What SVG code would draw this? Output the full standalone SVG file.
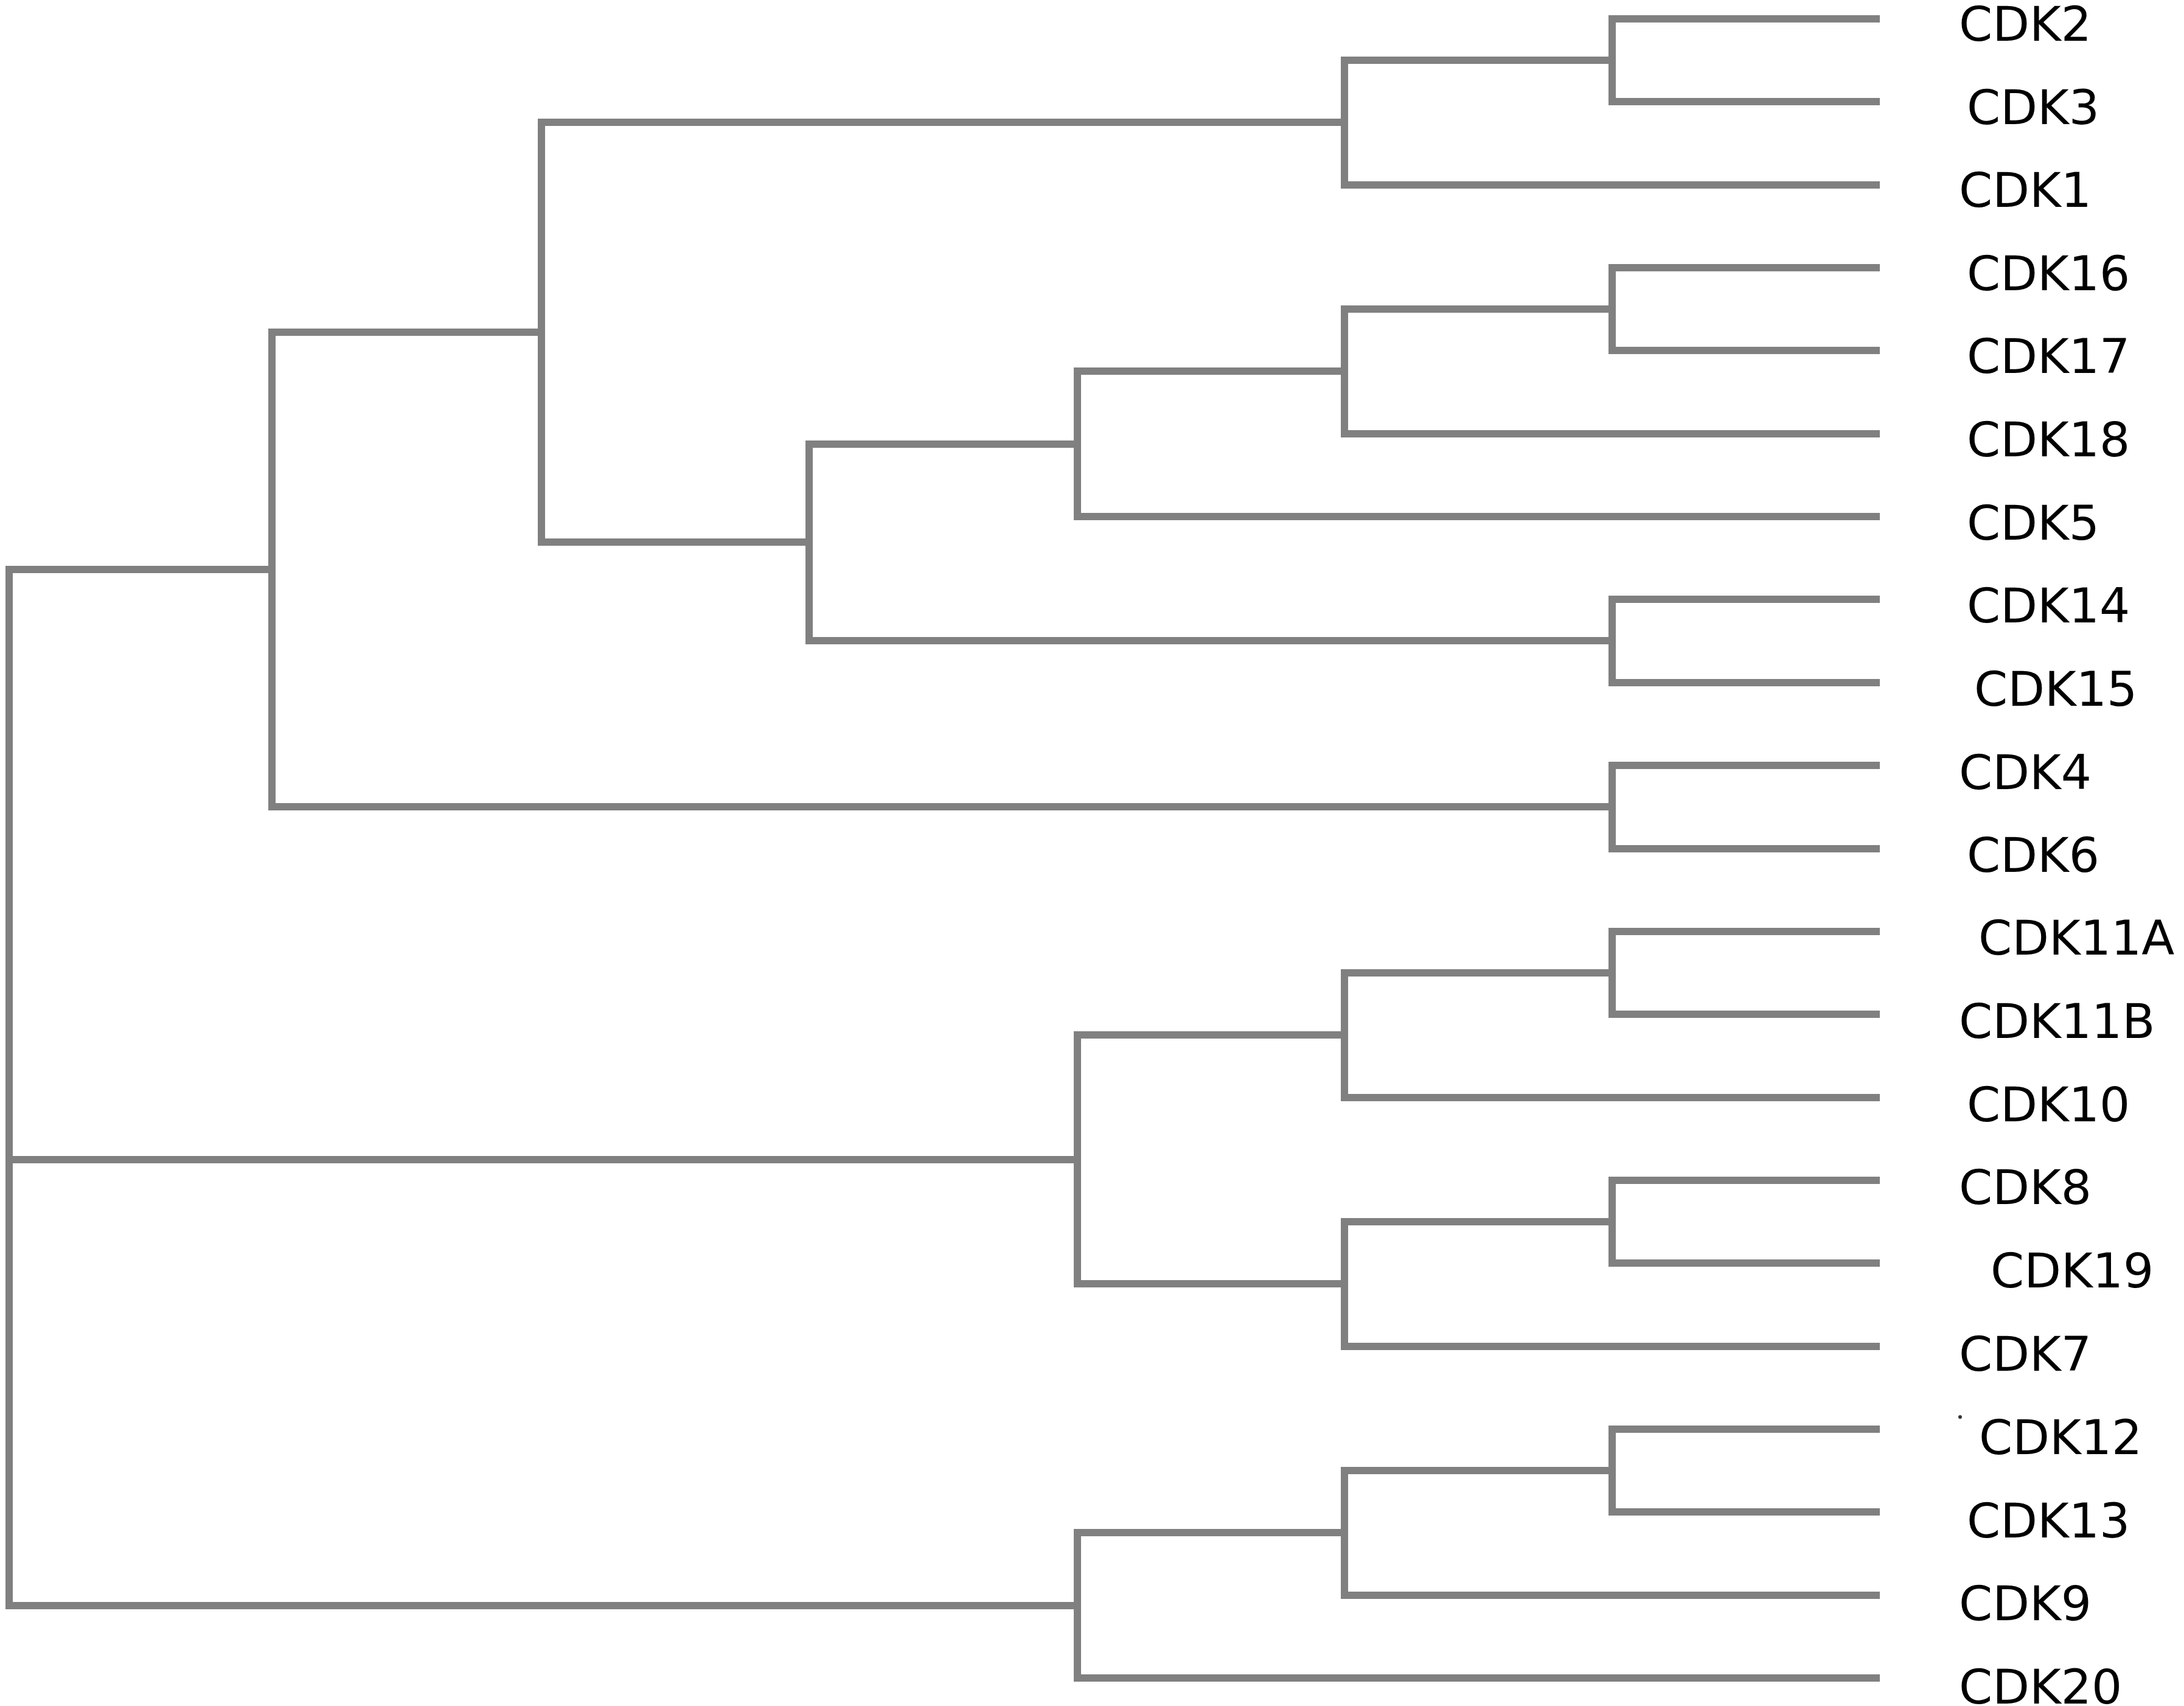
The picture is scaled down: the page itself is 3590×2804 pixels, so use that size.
<svg xmlns="http://www.w3.org/2000/svg" width="3590" height="2804" viewBox="0 0 3590 2804">
<style>
.e{fill:none;stroke:#808080;stroke-width:12;stroke-linejoin:miter;stroke-linecap:butt}
.t{font-family:"DejaVu Sans","Verdana",sans-serif;font-size:79px;fill:#000}
</style>
<rect width="3590" height="2804" fill="#fff"/>
<g id="connectors">
<path class="e" d="M3090 31 H2650 V167 H3090"/>
<path class="e" d="M2650 99 H2210 V304 H3090"/>
<path class="e" d="M3090 440 H2650 V576 H3090"/>
<path class="e" d="M2650 508 H2210 V713 H3090"/>
<path class="e" d="M2210 610 H1771 V849 H3090"/>
<path class="e" d="M3090 985 H2650 V1122 H3090"/>
<path class="e" d="M1771 730 H1330 V1053 H2650"/>
<path class="e" d="M2210 201 H890 V891 H1330"/>
<path class="e" d="M3090 1258 H2650 V1395 H3090"/>
<path class="e" d="M890 546 H447 V1326 H2650"/>
<path class="e" d="M3090 1531 H2650 V1667 H3090"/>
<path class="e" d="M2650 1599 H2210 V1804 H3090"/>
<path class="e" d="M3090 1940 H2650 V2076 H3090"/>
<path class="e" d="M2650 2008 H2210 V2213 H3090"/>
<path class="e" d="M2210 1701 H1771 V2110 H2210"/>
<path class="e" d="M3090 2349 H2650 V2485 H3090"/>
<path class="e" d="M2650 2417 H2210 V2622 H3090"/>
<path class="e" d="M2210 2519 H1771 V2758 H3090"/>
<path class="e" d="M447 936 H15 V2639 H1771"/>
<path class="e" d="M15 1906 H1771"/>
</g>
<g id="leaf-CDK2"><text class="t" x="3220" y="67">CDK2</text></g>
<g id="leaf-CDK3"><text class="t" x="3233" y="204">CDK3</text></g>
<g id="leaf-CDK1"><text class="t" x="3220" y="340">CDK1</text></g>
<g id="leaf-CDK16"><text class="t" x="3233" y="477">CDK16</text></g>
<g id="leaf-CDK17"><text class="t" x="3233" y="613">CDK17</text></g>
<g id="leaf-CDK18"><text class="t" x="3233" y="750">CDK18</text></g>
<g id="leaf-CDK5"><text class="t" x="3233" y="887">CDK5</text></g>
<g id="leaf-CDK14"><text class="t" x="3233" y="1023">CDK14</text></g>
<g id="leaf-CDK15"><text class="t" x="3245" y="1160">CDK15</text></g>
<g id="leaf-CDK4"><text class="t" x="3220" y="1297">CDK4</text></g>
<g id="leaf-CDK6"><text class="t" x="3233" y="1433">CDK6</text></g>
<g id="leaf-CDK11A"><text class="t" x="3252" y="1569">CDK11A</text></g>
<g id="leaf-CDK11B"><text class="t" x="3220" y="1706">CDK11B</text></g>
<g id="leaf-CDK10"><text class="t" x="3233" y="1843">CDK10</text></g>
<g id="leaf-CDK8"><text class="t" x="3220" y="1979">CDK8</text></g>
<g id="leaf-CDK19"><text class="t" x="3272" y="2116">CDK19</text></g>
<g id="leaf-CDK7"><text class="t" x="3220" y="2253">CDK7</text></g>
<g id="leaf-CDK12"><circle cx="3222" cy="2329" r="3" fill="#333"/><text class="t" x="3253" y="2390">CDK12</text></g>
<g id="leaf-CDK13"><text class="t" x="3233" y="2527">CDK13</text></g>
<g id="leaf-CDK9"><text class="t" x="3220" y="2663">CDK9</text></g>
<g id="leaf-CDK20"><text class="t" x="3220" y="2800">CDK20</text></g>
</svg>
